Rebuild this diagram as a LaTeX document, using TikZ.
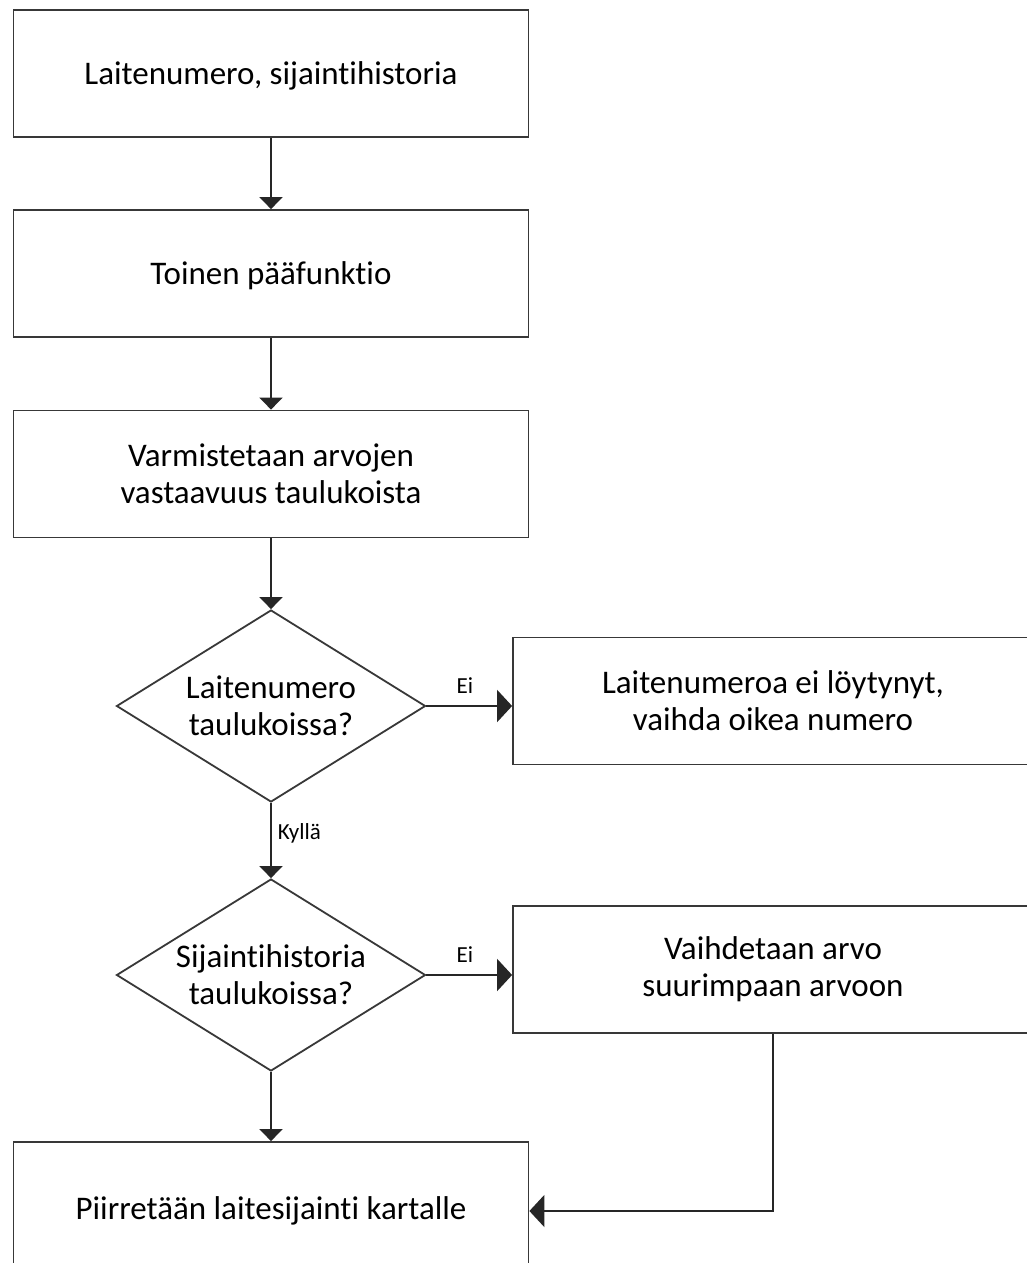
\documentclass[tikz,border=0pt]{standalone}
\usepackage{fontspec}
\setmainfont{Carlito}[Ligatures={NoCommon,NoRequired,NoContextual}]
\usetikzlibrary{arrows.meta,shapes.geometric}
\begin{document}
\begin{tikzpicture}[x=1pt,y=-1pt,
  every node/.style={inner sep=0pt},
  box/.style={draw=black!78, line width=1.8pt, fill=white, minimum width=515pt, minimum height=127pt, align=center, font=\fontsize{33}{37}\selectfont},
  rbox/.style={box, minimum width=520pt},
  dec/.style={draw=black!78, diamond, line width=1.8pt, fill=white, minimum width=309pt, minimum height=192pt, aspect=1.61, align=center, font=\fontsize{33}{37}\selectfont},
  conn/.style={draw=black!85, line width=1.8pt},
  vtip/.style={-{Triangle[width=23pt,length=12pt]}},
  htip/.style={-{Triangle[width=32pt,length=15pt]}},
  lbl/.style={font=\fontsize{23}{26}\selectfont}]
\useasboundingbox (0,0) rectangle (1027,1263);
\clip (0,0) rectangle (1027,1263);
\fill[white] (0,0) rectangle (1027,1263);
\node[box, text depth=0pt] (b1) at (271,73.5) {Laitenumero, sijaintihistoria};
\node[box, text depth=0pt] (b2) at (271,273.5) {Toinen pääfunktio};
\node[box] (b3) at (271,474) {Varmistetaan arvojen\\vastaavuus taulukoista};
\node[dec] (d1) at (271,706) {Laitenumero\\taulukoissa?};
\node[rbox] (r1) at (773,701) {Laitenumeroa ei löytynyt,\\vaihda oikea numero};
\node[dec] (d2) at (271,975) {Sijaintihistoria\\taulukoissa?};
\node[rbox] (r2) at (773,969.5) {Vaihdetaan arvo\\suurimpaan arvoon};
\node[box, minimum height=138pt] (b4) at (271,1211) {Piirretään laitesijainti kartalle};
\draw[conn, vtip] (b1) -- (b2);
\draw[conn, vtip] (b2) -- (b3);
\draw[conn, vtip] (b3) -- (d1);
\draw[conn, htip] (d1.east) -- node[lbl, above=12pt, pos=0.45] (l1) {Ei} (d1.east -| r1.west);
\draw[conn, vtip] (d1) -- node[lbl, right=6pt, pos=0.4] (l2) {Kyllä} (d2);
\draw[conn, htip] (d2.east) -- node[lbl, above=12pt, pos=0.45] (l3) {Ei} (d2.east -| r2.west);
\draw[conn, vtip] (d2) -- (b4);
\draw[conn, htip] (r2.south) |- (b4.east);
\end{tikzpicture}
\end{document}
